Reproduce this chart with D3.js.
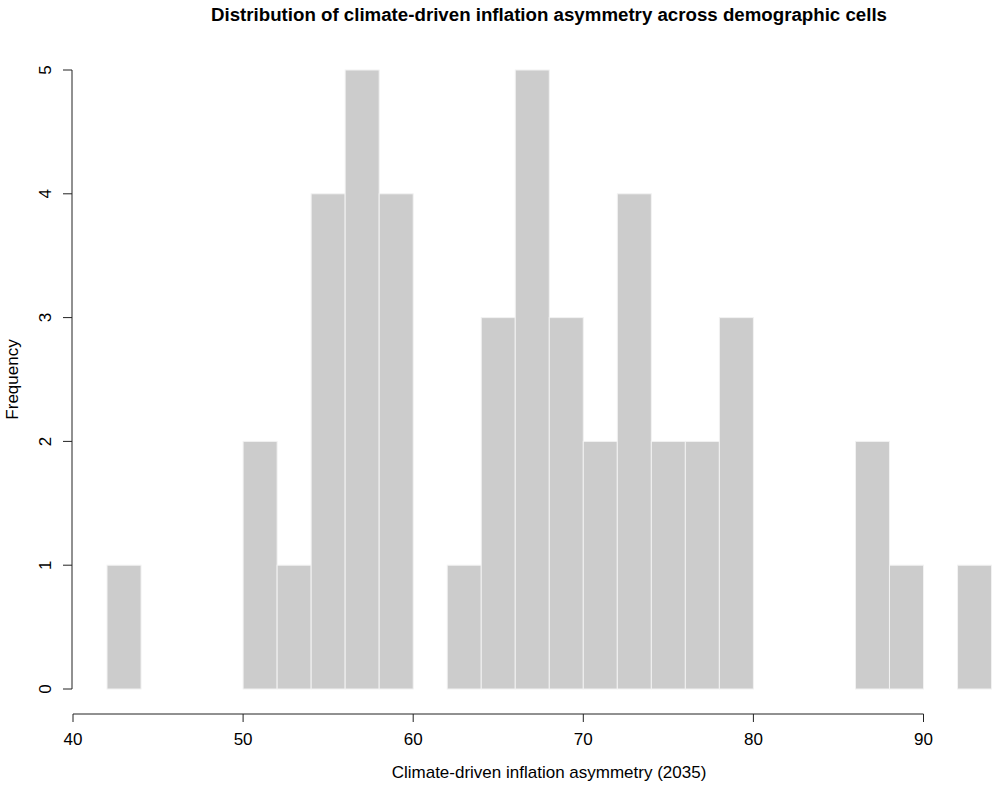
<!DOCTYPE html>
<html lang="en">
<head>
<meta charset="UTF-8">
<title>Climate-driven inflation asymmetry histogram</title>
<script src="https://cdn.jsdelivr.net/npm/d3@7"></script>
<style>
    body { margin: 0; background: white; }
    text { font-family: "Liberation Sans", Arial, sans-serif; fill: black; }
    .bar { fill: #cccccc; stroke: #f2f2f2; stroke-width: 1; }
</style>
</head>
<body>
<svg width="992" height="788"></svg>
<script>
    // bin edges (width 2) and counts
    const binStarts = [42, 44, 46, 48, 50, 52, 54, 56, 58, 60, 62, 64, 66, 68, 70, 72, 74, 76, 78, 80, 82, 84, 86, 88, 90, 92];
    const counts    = [ 1,  0,  0,  0,  2,  1,  4,  5,  4,  0,  1,  3,  5,  3,  2,  4,  2,  2,  3,  0,  0,  0,  2,  1,  0,  1];
    const binWidth = 2;
    const xTicks = [40, 50, 60, 70, 80, 90];
    const yTicks = [0, 1, 2, 3, 4, 5];

    const svg = d3.select("svg");

    const x = d3.scaleLinear().domain([40, 90]).range([73, 923.5]);
    const y = d3.scaleLinear().domain([0, 5]).range([689, 70]);

    const bins = binStarts.map((s, i) => ({x0: s, x1: s + binWidth, n: counts[i]}))
                          .filter(d => d.n > 0);

    svg.selectAll("rect.bar")
       .data(bins)
          .join("rect").attr("class", "bar")
            .attr("x", d => x(d.x0))
            .attr("width", d => x(d.x1) - x(d.x0))
            .attr("y", d => y(d.n))
            .attr("height", d => y(0) - y(d.n));

    // x axis, R style: detached below the bars
    const xAxis = svg.append("g").attr("transform", "translate(0,714)");
    xAxis.append("line")
         .attr("x1", x(40)).attr("x2", x(90))
         .attr("stroke", "#222").attr("stroke-width", 1);
    xAxis.selectAll("line.tick")
         .data(xTicks)
            .join("line").attr("class", "tick")
              .attr("x1", d => x(d)).attr("x2", d => x(d))
              .attr("y1", 0).attr("y2", 8)
              .attr("stroke", "#222");
    xAxis.selectAll("text")
         .data(xTicks)
            .join("text")
              .attr("x", d => x(d)).attr("y", 31)
              .attr("text-anchor", "middle")
              .style("font-size", "17px")
              .text(d => d);

    // y axis
    const yAxis = svg.append("g").attr("transform", "translate(72,0)");
    yAxis.append("line")
         .attr("y1", y(0)).attr("y2", y(5))
         .attr("stroke", "#222");
    yAxis.selectAll("line.tick")
         .data(yTicks)
            .join("line").attr("class", "tick")
              .attr("y1", d => y(d)).attr("y2", d => y(d))
              .attr("x1", 0).attr("x2", -9)
              .attr("stroke", "#222");
    yAxis.selectAll("text")
         .data(yTicks)
            .join("text")
              .attr("transform", d => `translate(-21,${y(d)}) rotate(-90)`)
              .attr("text-anchor", "middle")
              .style("font-size", "17px")
              .text(d => d);

    svg.append("text")
       .attr("transform", `translate(18,${(y(0) + y(5)) / 2}) rotate(-90)`)
       .attr("text-anchor", "middle")
       .style("font-size", "17px")
       .text("Frequency");

    svg.append("text")
       .attr("x", 549).attr("y", 778)
       .attr("text-anchor", "middle")
       .style("font-size", "17px")
       .text("Climate-driven inflation asymmetry (2035)");

    svg.append("text")
       .attr("x", 549).attr("y", 21)
       .attr("text-anchor", "middle")
       .style("font-size", "18.7px")
       .style("font-weight", "bold")
       .text("Distribution of climate-driven inflation asymmetry across demographic cells");
</script>
</body>
</html>
